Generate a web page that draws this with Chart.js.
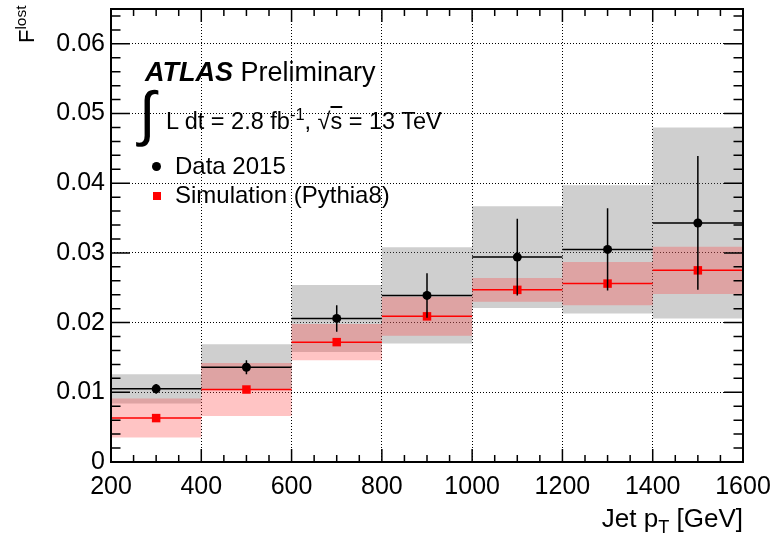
<!DOCTYPE html>
<html>
<head>
<meta charset="utf-8">
<script src="https://cdn.jsdelivr.net/npm/chart.js@4"></script>
<style>
  body { margin: 0; background: #fff; }
  #wrap { position: relative; width: 777px; height: 543px; font-family: "Liberation Sans", Arial, sans-serif; color: #000; }
  .txt { position: absolute; line-height: 1; white-space: nowrap; }
  .sup { position: relative; top: -0.55em; font-size: 0.7em; }
  .sub { position: relative; top: 0.35em; font-size: 0.7em; }
  .ovl { text-decoration: overline; }
</style>
</head>
<body>
<div id="wrap">
  <canvas id="chart"></canvas>

  <!-- y axis title, rotated -->
  <div class="txt" style="left:16px; top:43px; font-size:22px; transform:rotate(-90deg); transform-origin:0 0;">F<span class="sup">lost</span></div>
  <!-- x axis title -->
  <div class="txt" style="right:34px; top:505px; font-size:26px;">Jet p<span class="sub">T</span> [GeV]</div>

  <!-- ATLAS label -->
  <div class="txt" style="left:145px; top:59px; font-size:27px;"><b><i>ATLAS</i></b> Preliminary</div>
  <div class="txt" style="left:139px; top:84px; font-size:60px;">∫</div>
  <div class="txt" style="left:166px; top:110px; font-size:23.5px;">L dt = 2.8 fb<span class="sup">-1</span>, √<span class="ovl">s</span> = 13 TeV</div>

  <!-- legend -->
  <div style="position:absolute; left:152px; top:162px; width:9px; height:9px; border-radius:50%; background:#000;"></div>
  <div class="txt" style="left:175px; top:154px; font-size:24px;">Data 2015</div>
  <div style="position:absolute; left:153px; top:192px; width:8px; height:8px; background:#ff0000;"></div>
  <div class="txt" style="left:175px; top:183px; font-size:24px;">Simulation (Pythia8)</div>
</div>

<script>
// bins in jet pT [GeV]
const edges = [200, 400, 600, 800, 1000, 1200, 1400, 1600];
const centers = [300, 500, 700, 900, 1100, 1300, 1500];

// Data 2015: value, stat. error (bar), total error (grey band)
const dataVals = [0.0105, 0.0136, 0.0206, 0.0239, 0.0294, 0.0305, 0.0343];
const dataStat = [0.0007, 0.0010, 0.0019, 0.0032, 0.0055, 0.0059, 0.0096];
const dataBand = [0.0021, 0.0033, 0.0048, 0.0069, 0.0073, 0.0092, 0.0137];

// Simulation (Pythia8): value and band
const simVals = [0.0063, 0.0104, 0.0172, 0.0209, 0.0247, 0.0256, 0.0275];
const simBand = [0.0028, 0.0038, 0.0026, 0.0028, 0.0017, 0.0031, 0.0034];

// axis ranges
const xMin = 200, xMax = 1600, xMajor = 200, xMinor = 50;
const yMin = 0, yMax = 0.065, yMajor = 0.01, yMinor = 0.002;

Chart.defaults.font.family = '"Liberation Sans", Arial, sans-serif';
Chart.defaults.color = '#000';

// stepped band edge: one point per bin edge, last value repeated
function bandEdge(vals, errs, sign) {
  return edges.map((e, i) => {
    const k = Math.min(i, vals.length - 1);
    return { x: e, y: vals[k] + sign * errs[k] };
  });
}

// horizontal bin-width lines, split by gaps
function binLines(vals) {
  const pts = [];
  vals.forEach((v, i) => {
    pts.push({ x: edges[i], y: v }, { x: edges[i + 1], y: v }, { x: edges[i + 1], y: null });
  });
  return pts;
}

// vertical error bars, split by gaps
function errBars(vals, errs) {
  const pts = [];
  vals.forEach((v, i) => {
    pts.push({ x: centers[i], y: v - errs[i] }, { x: centers[i], y: v + errs[i] }, { x: centers[i], y: null });
  });
  return pts;
}

const hidden = { borderWidth: 0, pointRadius: 0, stepped: true };

const datasets = [
  { ...hidden, label: 'data band hi', data: bandEdge(dataVals, dataBand, 1), fill: '+1', backgroundColor: 'rgba(110,110,110,0.33)', order: 10 },
  { ...hidden, label: 'data band lo', data: bandEdge(dataVals, dataBand, -1), fill: false, order: 9 },
  { ...hidden, label: 'sim band hi', data: bandEdge(simVals, simBand, 1), fill: '+1', backgroundColor: 'rgba(255,60,60,0.3)', order: 8 },
  { ...hidden, label: 'sim band lo', data: bandEdge(simVals, simBand, -1), fill: false, order: 7 },
  { label: 'sim width', data: binLines(simVals), borderColor: '#ff0000', borderWidth: 1.5, pointRadius: 0, fill: false, order: 6 },
  { label: 'Simulation (Pythia8)', data: centers.map((c, i) => ({ x: c, y: simVals[i] })), showLine: false,
    pointStyle: 'rect', pointRadius: 6, pointBackgroundColor: '#ff0000', pointBorderWidth: 0, order: 5 },
  { label: 'data width', data: binLines(dataVals), borderColor: '#000', borderWidth: 1.5, pointRadius: 0, fill: false, order: 4 },
  { label: 'data stat', data: errBars(dataVals, dataStat), borderColor: '#000', borderWidth: 1.5, pointRadius: 0, fill: false, order: 3 },
  { label: 'Data 2015', data: centers.map((c, i) => ({ x: c, y: dataVals[i] })), showLine: false,
    pointStyle: 'circle', pointRadius: 4.5, pointBackgroundColor: '#000', pointBorderWidth: 0, order: 2 }
];

// frame and inward ticks on all four sides (ROOT style)
const frameTicks = {
  id: 'frameTicks',
  afterDatasetsDraw(chart) {
    const { ctx, chartArea: a, scales: { x, y } } = chart;
    ctx.save();
    ctx.strokeStyle = '#000';
    ctx.lineWidth = 1.5;
    ctx.beginPath();
    for (let k = 0; xMin + k * xMinor <= xMax; k++) {
      const px = x.getPixelForValue(xMin + k * xMinor);
      const len = k % (xMajor / xMinor) === 0 ? 13 : 7;
      ctx.moveTo(px, a.bottom); ctx.lineTo(px, a.bottom - len);
      ctx.moveTo(px, a.top); ctx.lineTo(px, a.top + len);
    }
    for (let k = 0; yMin + k * yMinor <= yMax + 1e-9; k++) {
      const py = y.getPixelForValue(yMin + k * yMinor);
      const len = k % 5 === 0 ? 19 : 9.5;
      ctx.moveTo(a.left, py); ctx.lineTo(a.left + len, py);
      ctx.moveTo(a.right, py); ctx.lineTo(a.right - len, py);
    }
    ctx.stroke();
    ctx.lineWidth = 2;
    ctx.strokeRect(a.left, a.top, a.right - a.left, a.bottom - a.top);
    ctx.restore();
  }
};

// fixed plot frame, no automatic label padding
function noPad(s) {
  s.paddingTop = 0; s.paddingBottom = 0; s.paddingLeft = 0; s.paddingRight = 0;
}

const chart = new Chart(document.getElementById('chart'), {
  type: 'line',
  data: { datasets },
  plugins: [frameTicks],
  options: {
    responsive: true,
    maintainAspectRatio: false,
    animation: false,
    events: [],
    layout: { padding: { top: 9, right: 34, left: 0, bottom: 0 } },
    plugins: {
      legend: { display: false },
      tooltip: { enabled: false }
    },
    scales: {
      x: {
        type: 'linear',
        min: xMin,
        max: xMax,
        afterFit: s => { s.height = 81; noPad(s); },
        ticks: { stepSize: xMajor, font: { size: 25 }, padding: 10, maxRotation: 0, autoSkip: false,
          callback: v => String(v) },
        grid: { color: '#000', lineWidth: 1, drawTicks: false },
        border: { display: false, dash: [1, 2] }
      },
      y: {
        min: yMin,
        max: yMax,
        afterFit: s => { s.width = 111; noPad(s); },
        ticks: {
          stepSize: yMajor,
          includeBounds: false,
          font: { size: 25 },
          padding: 6,
          callback: v => (v === 0 ? '0' : v.toFixed(2))
        },
        grid: { color: '#000', lineWidth: 1, drawTicks: false },
        border: { display: false, dash: [1, 2] }
      }
    }
  }
});
</script>
</body>
</html>
